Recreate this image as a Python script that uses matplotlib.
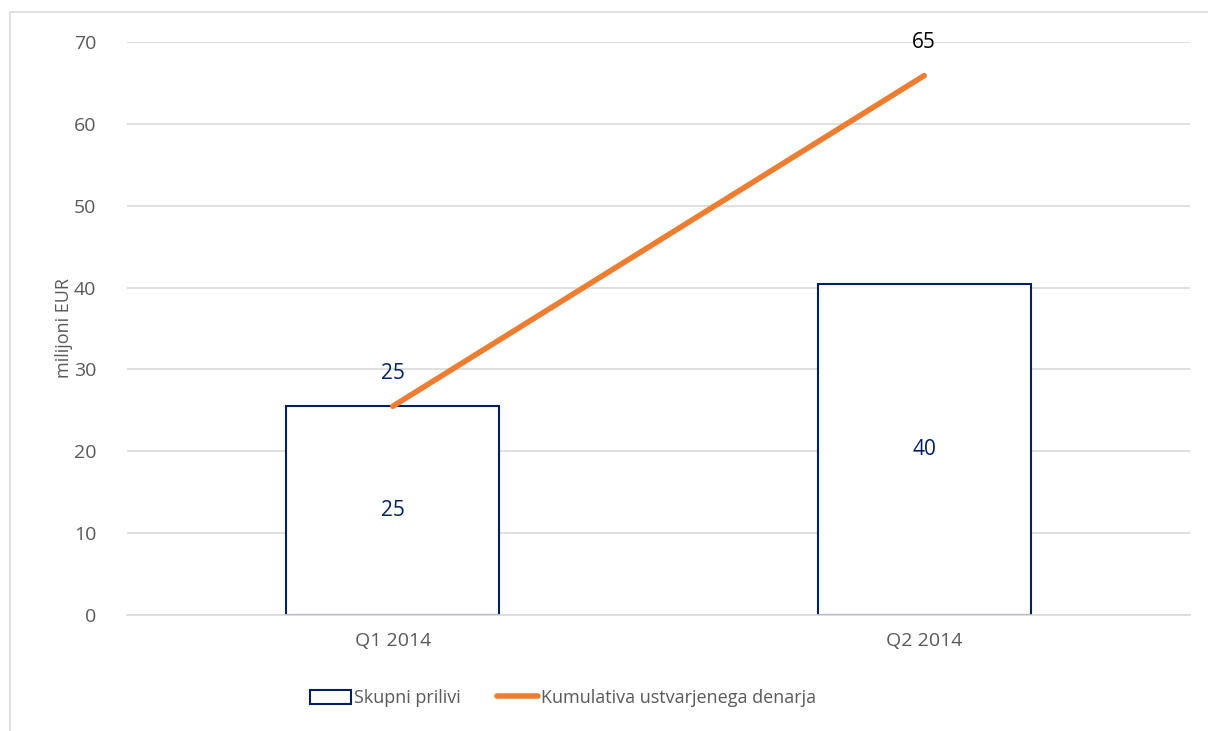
import matplotlib.pyplot as plt
from matplotlib.patches import Rectangle

# data
categories = ["Q1 2014", "Q2 2014"]
prilivi = [25.5, 40.4]
kumulativa = [25.5, 65.9]
prilivi_labels = ["25", "40"]
kumulativa_labels = ["25", "65"]

navy = "#002060"
orange = "#ED7D31"
gray = "#595959"

plt.rcParams['font.family'] = ['Open Sans', 'DejaVu Sans']

fig = plt.figure(figsize=(12.08, 7.31), dpi=100)
ax = fig.add_axes([127 / 1208, 1 - 615 / 731, 1063 / 1208, 573 / 731])

x = range(len(categories))
bars = ax.bar(x, prilivi, width=0.4, facecolor="white", edgecolor=navy, linewidth=1.5,
              label="Skupni prilivi", zorder=2)
line, = ax.plot(x, kumulativa, color=orange, linewidth=4, solid_capstyle="round",
                label="Kumulativa ustvarjenega denarja", zorder=3)

# labels inside bars
for i, v in enumerate(prilivi):
    ax.text(i, v / 2, prilivi_labels[i], ha="center", va="center", fontsize=15, color=navy)

# line labels
ax.text(0, kumulativa[0] + 4, kumulativa_labels[0], ha="center", va="center", fontsize=15, color=navy)
ax.text(1, kumulativa[1] + 4, kumulativa_labels[1], ha="center", va="center", fontsize=15, color="black")

ax.set_xlim(-0.5, 1.5)
ax.set_ylim(0, 70)
ax.set_yticks(range(0, 71, 10))
ax.set_xticks(list(x))
ax.set_xticklabels(categories)
ax.tick_params(axis="both", length=0, labelsize=14, labelcolor=gray)
ax.tick_params(axis="y", pad=22)
ax.tick_params(axis="x", pad=12)
ax.grid(axis="y", color="#D9D9D9", linewidth=1.2, zorder=0)
ax.set_axisbelow(True)
for s in ["top", "right", "left"]:
    ax.spines[s].set_visible(False)
ax.spines["bottom"].set_color("#D9D9D9")
ax.spines["bottom"].set_linewidth(1.2)
ax.set_ylabel("milijoni EUR", fontsize=13, color=gray, labelpad=1)

leg = ax.legend([bars, line], ["Skupni prilivi", "Kumulativa ustvarjenega denarja"],
                loc="center", bbox_to_anchor=(0.41, -0.145), ncol=2, frameon=False,
                fontsize=13, handlelength=2.3, handleheight=0.8, handletextpad=0.15,
                columnspacing=2.0)
for t in leg.get_texts():
    t.set_color(gray)

# outer frame
fig.patches.append(Rectangle((10 / 1208, -0.01), 1.1, 1 - 12 / 731 + 0.01,
                             transform=fig.transFigure, fill=False,
                             edgecolor="#D9D9D9", linewidth=1.2))

fig.savefig("out.png", dpi=100)
